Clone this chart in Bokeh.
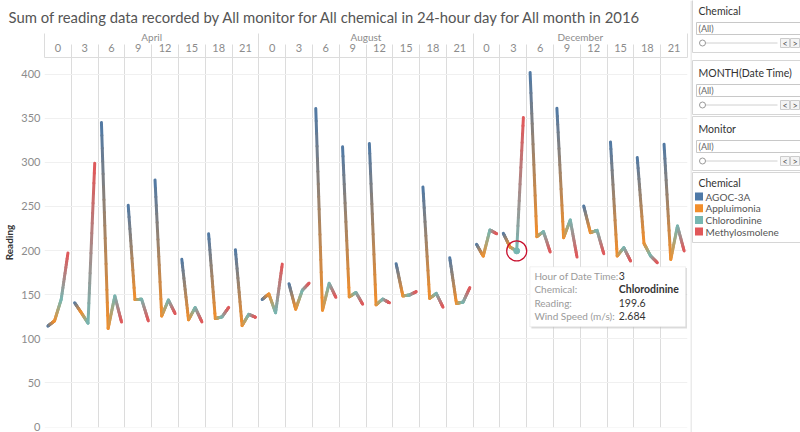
import numpy as np
from bokeh.plotting import figure
from bokeh.models import FixedTicker, LinearAxis, Range1d, ColumnDataSource, BoxAnnotation
from bokeh.layouts import row
from bokeh.embed import file_html
from bokeh.resources import INLINE
from bokeh.core.properties import value

# ---------------- data ----------------
months = ["April", "August", "December"]
hours = [0, 3, 6, 9, 12, 15, 18, 21]
chemicals = ["AGOC-3A", "Appluimonia", "Chlorodinine", "Methylosmolene"]
chem_colors = ["#4e79a7", "#f28e2b", "#76b7b2", "#e15759"]
y_ticks = [0, 50, 100, 150, 200, 250, 300, 350, 400]

apr_agoc = [114.4, 140.8, 345.0, 251.3, 280.0, 190.0, 219.0, 201.0]
apr_appl = [120.3, 129.5, 111.8, 144.4, 125.8, 121.6, 122.9, 115.0]
apr_chlo = [144.8, 117.7, 148.5, 144.8, 144.0, 135.4, 124.8, 127.8]
apr_meth = [197.2, 299.0, 119.0, 120.3, 128.6, 119.2, 135.6, 124.4]

aug_agoc = [144.6, 162.4, 361.0, 317.5, 321.3, 185.0, 272.0, 191.9]
aug_appl = [150.8, 133.5, 132.4, 147.5, 138.5, 148.6, 145.8, 140.1]
aug_chlo = [129.5, 155.1, 162.8, 152.5, 145.0, 149.6, 151.4, 141.6]
aug_meth = [184.6, 163.0, 147.0, 139.2, 140.8, 153.4, 135.8, 158.0]

dec_agoc = [207.0, 219.5, 401.8, 361.3, 250.5, 323.1, 305.4, 320.5]
dec_appl = [193.7, 204.0, 215.7, 214.6, 220.3, 193.8, 208.2, 190.0]
dec_chlo = [223.3, 199.6, 221.4, 234.6, 222.9, 203.3, 193.8, 227.8]
dec_meth = [219.1, 350.8, 198.3, 192.7, 196.4, 188.1, 186.2, 199.5]

readings = {
    "April": [apr_agoc, apr_appl, apr_chlo, apr_meth],
    "August": [aug_agoc, aug_appl, aug_chlo, aug_meth],
    "December": [dec_agoc, dec_appl, dec_chlo, dec_meth],
}

# highlighted mark (tooltip)
hl_month = "December"
hl_hour = 3
hl_chem = "Chlorodinine"
hl_reading = 199.6
hl_wind = 2.684

title_text = ("Sum of reading data recorded by All monitor for All chemical "
              "in 24-hour day for All month in 2016")

FONT = "Lato"
n_h = len(hours)
n_c = len(chemicals)
n_cells = len(months) * n_h

# ---------------- main figure ----------------
p = figure(width=690, height=432, output_backend="svg", toolbar_location=None,
           x_range=Range1d(0, n_cells), y_range=Range1d(-0.5, 418.7),
           x_axis_location=None, y_axis_location="left",
           min_border_left=43, min_border_right=3, min_border_top=57, min_border_bottom=5)
p.outline_line_color = None
p.background_fill_color = "white"
p.border_fill_color = "white"
try:
    p.frame_align = False
except Exception:
    pass

p.title.text = title_text
p.title.text_font = FONT
p.title.text_font_size = "14.85px"
p.title.text_font_style = "normal"
p.title.text_color = "#555555"
p.title.align = "left"
p.title.offset = -36
p.title.standoff = 3

# grids
p.xgrid.ticker = FixedTicker(ticks=list(range(n_cells + 1)))
p.xgrid.grid_line_color = "#dcdcdc"
p.xgrid.grid_line_width = 1
p.ygrid.ticker = FixedTicker(ticks=y_ticks)
p.ygrid.grid_line_color = "#f0f0f0"

# y axis
ya = p.yaxis[0]
ya.ticker = FixedTicker(ticks=y_ticks)
ya.axis_line_color = None
ya.major_tick_line_color = None
ya.minor_tick_line_color = None
ya.major_tick_out = 0
ya.major_tick_in = 0
ya.minor_tick_out = 0
ya.minor_tick_in = 0
ya.major_label_text_font = FONT
ya.major_label_text_font_size = "11px"
ya.major_label_text_color = "#8c8c8c"
ya.major_label_standoff = 4
ya.axis_label = "Reading"
ya.axis_label_text_font = FONT
ya.axis_label_text_font_size = "10px"
ya.axis_label_text_font_style = "bold"
ya.axis_label_text_color = "#333333"
ya.axis_label_standoff = 3

# hour header axis
hour_centers = [mi * n_h + hi + 0.5 for mi in range(len(months)) for hi in range(n_h)]
hour_labels = {mi * n_h + hi + 0.5: str(h) for mi in range(len(months)) for hi, h in enumerate(hours)}
ha = LinearAxis(ticker=FixedTicker(ticks=hour_centers, minor_ticks=list(range(n_cells + 1))))
ha.major_label_overrides = hour_labels
ha.axis_line_color = "#dcdcdc"
ha.major_tick_line_color = None
ha.major_tick_out = 0
ha.major_tick_in = 0
ha.minor_tick_line_color = "#dcdcdc"
ha.minor_tick_out = 13
ha.minor_tick_in = 0
ha.major_label_text_font = FONT
ha.major_label_text_font_size = "11px"
ha.major_label_text_color = "#8c8c8c"
ha.major_label_standoff = -7
p.add_layout(ha, "above")

# month header axis
month_centers = [mi * n_h + n_h / 2 for mi in range(len(months))]
ma = LinearAxis(ticker=FixedTicker(ticks=month_centers,
                                   minor_ticks=[mi * n_h for mi in range(len(months) + 1)]))
ma.major_label_overrides = {mi * n_h + n_h / 2: m for mi, m in enumerate(months)}
ma.axis_line_color = None
ma.major_tick_line_color = None
ma.major_tick_out = 0
ma.major_tick_in = 0
ma.minor_tick_line_color = "#dcdcdc"
ma.minor_tick_out = 7
ma.minor_tick_in = 7
ma.major_label_text_font = FONT
ma.major_label_text_font_size = "10px"
ma.major_label_text_color = "#8c8c8c"
ma.major_label_standoff = -9
p.add_layout(ma, "above")

# gradient lines (each segment drawn as short colored pieces)
def hex2rgb(h):
    h = h.lstrip("#")
    return np.array([int(h[i:i + 2], 16) for i in (0, 2, 4)], dtype=float)

rgb = [hex2rgb(c) for c in chem_colors]
NSTEP = 16
x0s, y0s, x1s, y1s, cols = [], [], [], [], []
for mi, m in enumerate(months):
    for hi in range(n_h):
        base = mi * n_h + hi
        vals = [series[hi] for series in readings[m]]
        xs = [base + (ci + 0.5) / n_c for ci in range(n_c)]
        for ci in range(n_c - 1):
            for k in range(NSTEP):
                t0, t1 = k / NSTEP, (k + 1) / NSTEP
                tm = (t0 + t1) / 2
                c = rgb[ci] * (1 - tm) + rgb[ci + 1] * tm
                x0s.append(xs[ci] + (xs[ci + 1] - xs[ci]) * t0)
                x1s.append(xs[ci] + (xs[ci + 1] - xs[ci]) * t1)
                y0s.append(vals[ci] + (vals[ci + 1] - vals[ci]) * t0)
                y1s.append(vals[ci] + (vals[ci + 1] - vals[ci]) * t1)
                cols.append("#%02x%02x%02x" % tuple(int(round(v)) for v in c))

seg_src = ColumnDataSource(dict(x0=x0s, y0=y0s, x1=x1s, y1=y1s, color=cols))
p.segment("x0", "y0", "x1", "y1", source=seg_src, line_color="color",
          line_width=3, line_cap="round")

# highlighted point + red circle
hm = months.index(hl_month)
hh = hours.index(hl_hour)
hc = chemicals.index(hl_chem)
hx = hm * n_h + hh + (hc + 0.5) / n_c
p.scatter([hx], [hl_reading], size=6, fill_color=chem_colors[hc], line_color=chem_colors[hc])
p.scatter([hx], [hl_reading], size=20, fill_color=None, line_color="#c8102e", line_width=1.3)

# tooltip
tip_left = hx + 0.49
tip_right = n_cells - 0.02
tip_top = hl_reading - 18.0
tip_bottom = hl_reading - 86.0
p.add_layout(BoxAnnotation(left=tip_left + 0.06, right=tip_right, top=tip_top - 1.5, bottom=tip_bottom - 2.0,
                           fill_color="#bbbbbb", fill_alpha=0.5, line_color=None, level="annotation"))
p.add_layout(BoxAnnotation(left=tip_left, right=tip_right - 0.05, top=tip_top, bottom=tip_bottom,
                           fill_color="white", fill_alpha=1.0, line_color="#cfcfcf", line_width=1,
                           level="annotation"))
tip_keys = ["Hour of Date Time:", "Chemical:", "Reading:", "Wind Speed (m/s):"]
tip_vals = [str(hl_hour), hl_chem, f"{hl_reading}", f"{hl_wind}"]
tip_styles = ["normal", "bold", "normal", "normal"]
row_y = [hl_reading - 28.4 - 15.1 * i for i in range(len(tip_keys))]
tip_src = ColumnDataSource(dict(x=[tip_left + 0.17] * 4, x2=[tip_left + 3.32] * 4, y=row_y,
                                k=tip_keys, v=tip_vals, st=tip_styles))
p.text(x="x", y="y", text="k", source=tip_src, text_font=value(FONT),
       text_font_size="10px", text_color="#9a9a9a", text_baseline="middle", level="overlay")
p.text(x="x2", y="y", text="v", source=tip_src, text_font=value(FONT),
       text_font_size="10.5px", text_color="#333333", text_baseline="middle",
       text_font_style="st", level="overlay")

# ---------------- sidebar ----------------
s = figure(width=110, height=432, output_backend="svg", toolbar_location=None,
           x_range=Range1d(690, 800), y_range=Range1d(432, 0),
           x_axis_location=None, y_axis_location=None, min_border=0)
s.grid.visible = False
s.outline_line_color = None
s.background_fill_color = "white"
s.border_fill_color = "white"
try:
    s.frame_align = False
except Exception:
    pass

s.segment([690.5], [0], [690.5], [432], line_color="#d8d8d8", line_width=1)

filter_titles = ["Chemical", "MONTH(Date Time)", "Monitor"]
card_tops = [-2, 60, 116]
card_h = 54
s.quad(left=[692] * 3, right=[801] * 3, top=card_tops, bottom=[t + card_h for t in card_tops],
       fill_color="white", line_color="#d6d6d6")
s.text(x=[698] * 3, y=[t + 12 for t in card_tops], text=filter_titles, text_font=value(FONT),
       text_font_size="10.5px", text_color="#333333", text_baseline="middle")
s.quad(left=[696] * 3, right=[801] * 3, top=[t + 24 for t in card_tops], bottom=[t + 36 for t in card_tops],
       fill_color="white", line_color="#c8c8c8")
s.text(x=[698] * 3, y=[t + 30 for t in card_tops], text=["(All)"] * 3, text_font=value(FONT),
       text_font_size="9px", text_color="#666666", text_baseline="middle")
s.segment([702] * 3, [t + 44.5 for t in card_tops], [777] * 3, [t + 44.5 for t in card_tops],
          line_color="#d0d0d0", line_width=1)
s.scatter([702] * 3, [t + 44.5 for t in card_tops], size=6, fill_color="white", line_color="#999999")
s.quad(left=[780] * 3, right=[789] * 3, top=[t + 40 for t in card_tops], bottom=[t + 49 for t in card_tops],
       fill_color="#f4f4f4", line_color="#cccccc")
s.quad(left=[790] * 3, right=[799] * 3, top=[t + 40 for t in card_tops], bottom=[t + 49 for t in card_tops],
       fill_color="#f4f4f4", line_color="#cccccc")
s.text(x=[784.5] * 3, y=[t + 44.5 for t in card_tops], text=["<"] * 3, text_font=value(FONT),
       text_font_size="9px", text_color="#555555", text_baseline="middle", text_align="center")
s.text(x=[794.5] * 3, y=[t + 44.5 for t in card_tops], text=[">"] * 3, text_font=value(FONT),
       text_font_size="9px", text_color="#555555", text_baseline="middle", text_align="center")

# legend card
leg_top = 172
s.quad(left=[692], right=[801], top=[leg_top], bottom=[leg_top + 70], fill_color="white", line_color="#d6d6d6")
s.text(x=[698], y=[leg_top + 10], text=["Chemical"], text_font=value(FONT),
       text_font_size="10.5px", text_color="#333333", text_baseline="middle")
leg_y = [leg_top + 24 + 11.7 * i for i in range(n_c)]
s.scatter([698.5] * n_c, leg_y, marker="square", size=8, fill_color=chem_colors, line_color=None)
s.text(x=[705] * n_c, y=leg_y, text=chemicals, text_font=value(FONT),
       text_font_size="10px", text_color="#555555", text_baseline="middle")

layout = row(p, s)
open("out.html", "w").write(file_html(layout, INLINE))
